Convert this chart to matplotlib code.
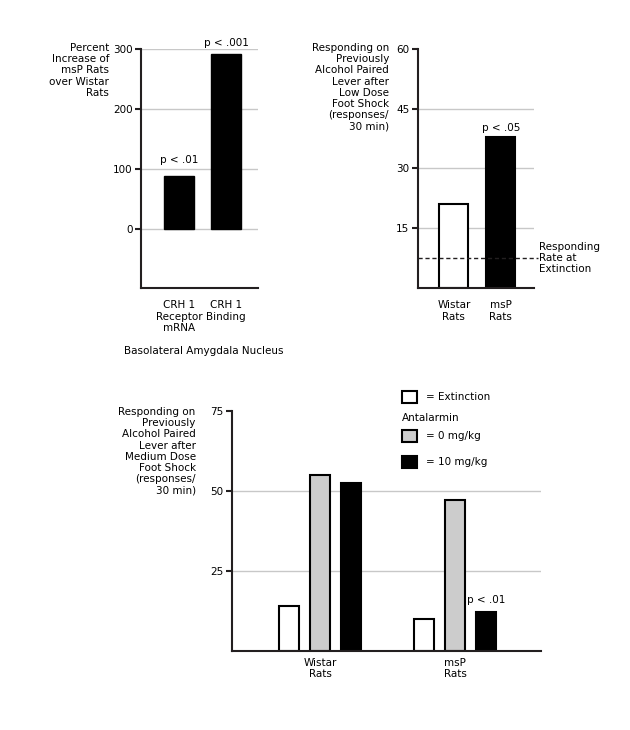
"""CRH1 / antalarmin figure: basolateral amygdala and foot shock reinstatement."""

import matplotlib
matplotlib.use("Agg")
import matplotlib.pyplot as plt
from matplotlib.patches import Rectangle
import numpy as np

plt.rcParams["font.family"] = ["DejaVu Sans"]
plt.rcParams["font.size"] = 7.5

# Panel A: percent increase of msP over Wistar rats
crh_labels = ["CRH 1\nReceptor\nmRNA", "CRH 1\nBinding"]
crh_increase = [89, 292]
crh_pvals = ["p < .01", "p < .001"]
crh_ticks = [0, 100, 200, 300]

# Panel B: low dose foot shock
low_labels = ["Wistar\nRats", "msP\nRats"]
low_resp = [21, 38]
low_pvals = ["", "p < .05"]
low_extinction = 7.5
low_ticks = [15, 30, 45, 60]

# Panel C: medium dose foot shock
med_labels = ["Wistar\nRats", "msP\nRats"]
med_extinction = [14, 10]
med_anta_0 = [55, 47]
med_anta_10 = [52.5, 12]
med_pvals = ["", "p < .01"]
med_ticks = [25, 50, 75]

INK = "#231f20"
GRID = "#c8c8c8"
GRAY = "#cccccc"


def style_axes(ax, ticks, xpad):
    for side in ["top", "right"]:
        ax.spines[side].set_visible(False)
    for side in ["left", "bottom"]:
        ax.spines[side].set_linewidth(1.5)
        ax.spines[side].set_color(INK)
    ax.set_yticks(ticks)
    ax.tick_params(axis="y", direction="out", length=4.5, width=1.5,
                   color=INK, pad=1.5, labelsize=7.5)
    ax.tick_params(axis="x", length=0, pad=xpad, labelsize=7.5)
    ax.grid(axis="y", color=GRID, linewidth=1)
    ax.set_axisbelow(True)


fig = plt.figure(figsize=(6.3, 7.3), dpi=100)

# ---- Panel A
ax1 = fig.add_axes([141 / 630, 1 - 287.7 / 730, 117 / 630, 238.7 / 730])
x1 = np.arange(len(crh_labels))
bars = ax1.bar(x1, crh_increase, width=0.64, color="black", edgecolor="black")
ax1.set_xlim(-0.81, 1.68)
ax1.set_ylim(-98, 300)
style_axes(ax1, crh_ticks, 9)
ax1.set_xticks(x1)
ax1.set_xticklabels(crh_labels, multialignment="center", va="top")
for bar, p, off in zip(bars, crh_pvals, [11, 8]):
    ax1.annotate(p, xy=(bar.get_x() + bar.get_width() / 2, bar.get_height()),
                 xytext=(0, off), textcoords="offset points",
                 ha="center", va="center")
fig.text(109 / 630, 1 - 43 / 730,
         "Percent\nIncrease of\nmsP Rats\nover Wistar\nRats",
         ha="right", va="top", linespacing=1.15)
fig.text(124 / 630, 1 - 351 / 730, "Basolateral Amygdala Nucleus",
         ha="left", va="center")

# ---- Panel B
ax2 = fig.add_axes([417.7 / 630, 1 - 287.7 / 730, 116 / 630, 238.7 / 730])
x2 = np.arange(len(low_labels))
bars = ax2.bar(x2, low_resp, width=0.62, color=["white", "black"],
               edgecolor="black", linewidth=1.5)
ax2.set_xlim(-0.77, 1.70)
ax2.set_ylim(0, 60)
style_axes(ax2, low_ticks, 9)
ax2.yaxis.get_gridlines()[-1].set_visible(False)
ax2.set_xticks(x2)
ax2.set_xticklabels(low_labels, multialignment="center", va="top")
for bar, p in zip(bars, low_pvals):
    if p:
        ax2.annotate(p, xy=(bar.get_x() + bar.get_width() / 2, bar.get_height()),
                     xytext=(0, 6), textcoords="offset points",
                     ha="center", va="center")
ax2.axhline(low_extinction, xmin=0, xmax=1.037, color=INK, linewidth=1,
            linestyle=(0, (3, 2)), clip_on=False, zorder=1)
ax2.text(1.046, low_extinction, "Responding\nRate at\nExtinction",
         transform=ax2.get_yaxis_transform(), ha="left", va="center",
         linespacing=1.15)
fig.text(389 / 630, 1 - 43 / 730,
         "Responding on\nPreviously\nAlcohol Paired\nLever after\nLow Dose\n"
         "Foot Shock\n(responses/\n30 min)",
         ha="right", va="top", linespacing=1.15)

# ---- Panel C
ax3 = fig.add_axes([231.7 / 630, 1 - 650.7 / 730, 309 / 630, 240 / 730])
x3 = np.arange(len(med_labels))
step, width = 0.233, 0.148
series = [
    (med_extinction, "white", "= Extinction"),
    (med_anta_0, GRAY, "= 0 mg/kg"),
    (med_anta_10, "black", "= 10 mg/kg"),
]
for i, (vals, color, _) in enumerate(series):
    b = ax3.bar(x3 + (i - 1) * step, vals, width=width, color=color,
                edgecolor="black", linewidth=1.5)
    if i == 2:
        for bar, p in zip(b, med_pvals):
            if p:
                ax3.annotate(p, xy=(bar.get_x() + bar.get_width() / 2,
                                    bar.get_height()),
                             xytext=(0, 9), textcoords="offset points",
                             ha="center", va="center")
ax3.set_xlim(-0.654, 1.635)
ax3.set_ylim(0, 75)
style_axes(ax3, med_ticks, 5)
ax3.yaxis.get_gridlines()[-1].set_visible(False)
ax3.set_xticks(x3)
ax3.set_xticklabels(med_labels, multialignment="center", va="top")
fig.text(195.7 / 630, 1 - 407 / 730,
         "Responding on\nPreviously\nAlcohol Paired\nLever after\nMedium Dose\n"
         "Foot Shock\n(responses/\n30 min)",
         ha="right", va="top", linespacing=1.15)

# hand-built legend
legend_rows = [396.7, 436, 462]
for (vals, color, label), yc in zip(series, legend_rows):
    fig.patches.append(Rectangle((401.5 / 630, 1 - (yc + 6) / 730), 15 / 630, 12 / 730,
                                 transform=fig.transFigure, facecolor=color,
                                 edgecolor="black", linewidth=1.5))
    fig.text(426 / 630, 1 - yc / 730, label, ha="left", va="center")
fig.text(402 / 630, 1 - 417.7 / 730, "Antalarmin", ha="left", va="center")

fig.savefig("out.png", dpi=100)
